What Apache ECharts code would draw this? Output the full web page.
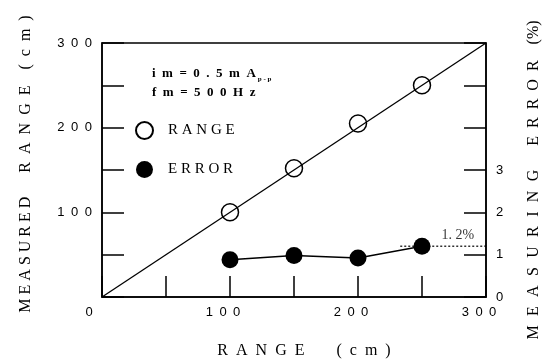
<!DOCTYPE html>
<html><head><meta charset="utf-8">
<script src="https://cdn.jsdelivr.net/npm/echarts@6/dist/echarts.min.js"></script>
<style>html,body{margin:0;padding:0;background:#fff}#c{width:544px;height:361px}</style>
</head><body><div id="c"></div>
<script>
// ---- data ----
const rangeX = [100, 150, 200, 250];
const measuredRange = [100, 152, 205, 250];
const errorPct = [0.88, 0.98, 0.92, 1.2];
const idealLine = [[0, 0], [300, 300]];
const errorRefLine = [[233, 1.2], [300, 1.2]];
const errorNote = [[278, 1.2, '1. 2%']];
const xTickLabels = ['0', '100', '200', '300'];
const yTickLabels = ['100', '200', '300'];
const errTickLabels = ['0', '1', '2', '3'];

const SP = '\u2002';
const spaced = (s, sep) => s.split('').join(sep === undefined ? SP : sep);
const F = 'Liberation Sans';
const FS = 'Liberation Serif';

const chart = echarts.init(document.getElementById('c'), null, {renderer: 'canvas'});
chart.setOption({
  animation: false,
  backgroundColor: '#fff',
  grid: {left: 102, right: 58, top: 43, bottom: 64, containLabel: false, outerBoundsMode: 'none',
         show: true, borderColor: '#000', borderWidth: 1.5, backgroundColor: 'transparent'},
  title: {
    left: 152, top: 64, padding: 0,
    text: '{t|' + spaced('im=0.') + SP + spaced('5mA') + '}{s|p - p}\n{t|' + spaced('fm=500Hz') + '}',
    textStyle: {rich: {
      t: {fontFamily: FS, fontSize: 13, color: '#000', lineHeight: 19},
      s: {fontFamily: FS, fontSize: 7, color: '#000', verticalAlign: 'bottom', lineHeight: 19, padding: [6, 0, 0, 2]}
    }}
  },
  legend: {
    orient: 'vertical', left: 135, top: 121, padding: 0,
    itemWidth: 17, itemHeight: 17, itemGap: 21,
    data: [{name: 'RANGE', icon: 'circle'}, {name: 'ERROR', icon: 'circle'}],
    formatter: n => n.split('').join(' '),
    textStyle: {fontFamily: FS, fontSize: 15, color: '#000', padding: [0, 0, 0, 10]},
    selectedMode: false
  },
  xAxis: {
    type: 'value', min: 0, max: 300, interval: 50,
    axisLine: {lineStyle: {color: '#000', width: 1.5}},
    axisTick: {inside: true, length: 21, lineStyle: {color: '#000', width: 1.5}},
    splitLine: {show: false},
    axisLabel: {
      margin: 9, color: '#000', fontFamily: F, fontSize: 13,
      formatter: v => {
        const s = String(v);
        if (!xTickLabels.includes(s)) return '';
        return v === 0 ? '{z|' + s + '}' : '{n|' + spaced(s) + '}';
      },
      rich: {z: {fontFamily: F, fontSize: 13, color: '#000', padding: [0, 26, 0, 0]},
             n: {fontFamily: F, fontSize: 13, color: '#000', padding: [0, 14, 0, 0]}}
    },
    name: spaced('RANGE') + SP + SP + SP + SP + spaced('(cm)'),
    nameLocation: 'middle', nameGap: 46,
    nameTextStyle: {fontFamily: FS, fontSize: 16, color: '#000', padding: [0, 0, 0, 20]}
  },
  yAxis: [{
    type: 'value', min: 0, max: 300, interval: 50,
    axisLine: {show: true, lineStyle: {color: '#000', width: 1.5}},
    axisTick: {show: true, inside: true, length: 22, lineStyle: {color: '#000', width: 1.5}},
    splitLine: {show: false},
    axisLabel: {margin: 10, color: '#000', fontFamily: F, fontSize: 13,
      formatter: v => yTickLabels.includes(String(v)) ? spaced(String(v)) : ''},
    name: spaced('MEASURED', ' ') + SP + SP + SP + spaced('RANGE') + SP + SP + spaced('(cm)'),
    nameLocation: 'middle', nameGap: 68, nameRotate: 90,
    nameTextStyle: {fontFamily: FS, fontSize: 16, color: '#000', padding: [0, 0, 0, 12]}
  }, {
    type: 'value', min: 0, max: 6, interval: 1, position: 'right',
    axisLine: {show: true, lineStyle: {color: '#000', width: 1.5}},
    axisTick: {show: true, inside: true, length: 22, lineStyle: {color: '#000', width: 1.5}},
    splitLine: {show: false},
    axisLabel: {margin: 10, color: '#000', fontFamily: F, fontSize: 13,
      formatter: v => errTickLabels.includes(String(v)) ? String(v) : ''},
    name: spaced('MEASURING', '\u2002\u200A') + SP + SP + SP + spaced('ERROR') + SP + SP + '(%)',
    nameLocation: 'middle', nameGap: 40, nameRotate: 90,
    nameTextStyle: {fontFamily: FS, fontSize: 16, color: '#000', padding: [0, 20, 0, 0]}
  }],
  series: [
    {type: 'line', name: 'ideal', data: idealLine, symbol: 'none', silent: true,
     lineStyle: {color: '#000', width: 1.3}, z: 1},
    {type: 'scatter', name: 'RANGE', data: rangeX.map((x, i) => [x, measuredRange[i]]),
     symbol: 'circle', symbolSize: 17,
     itemStyle: {color: 'rgba(0,0,0,0)', borderColor: '#000', borderWidth: 1.5, opacity: 1}, z: 3},
    {type: 'line', name: 'ERROR', yAxisIndex: 1, data: rangeX.map((x, i) => [x, errorPct[i]]),
     symbol: 'circle', symbolSize: 17, showSymbol: true,
     itemStyle: {color: '#000'}, lineStyle: {color: '#000', width: 1.5}, z: 3},
    {type: 'line', name: 'ref', yAxisIndex: 1, data: errorRefLine, symbol: 'none', silent: true,
     lineStyle: {color: '#000', width: 1.2, type: [2, 2]}, z: 2},
    {type: 'scatter', name: 'note', yAxisIndex: 1, data: errorNote, symbolSize: 0, silent: true,
     label: {show: true, position: 'top', distance: 4, formatter: p => p.value[2],
             fontFamily: FS, fontSize: 14, color: '#000'}}
  ]
});
</script></body></html>
